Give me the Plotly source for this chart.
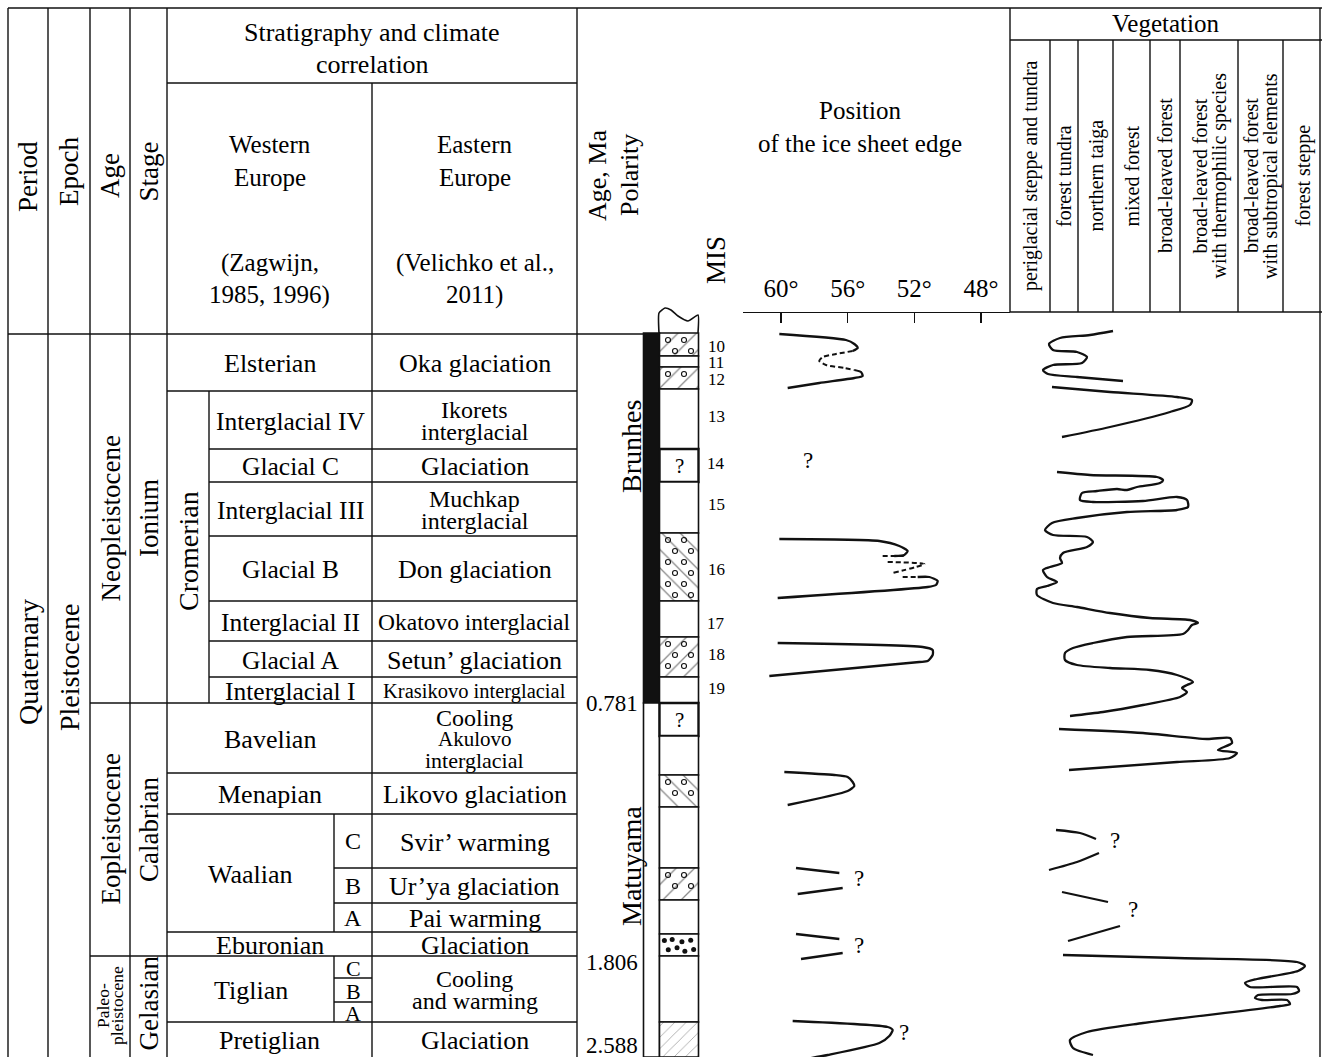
import plotly.graph_objects as go

W, H = 1322, 1057
FONT = "Liberation Serif, Times New Roman, serif"
INK = "#111111"

# ======================= DATA =======================
header_cols = ["Period", "Epoch", "Age", "Stage"]
strat_title = ["Stratigraphy and climate", "correlation"]
west_head = ["Western", "Europe", "(Zagwijn,", "1985, 1996)"]
east_head = ["Eastern", "Europe", "(Velichko et al.,", "2011)"]

period_label = "Quaternary"
epoch_label = "Pleistocene"
age_labels = [["Neopleistocene"], ["Eopleistocene"], ["Paleo-", "pleistocene"]]
stage_labels = ["Ionium", "Calabrian", "Gelasian"]
cromerian_label = "Cromerian"

# table row boundaries (chart depth units, top -> bottom)
row_edges = [334, 391, 449, 482, 536, 601, 641, 677, 703, 773, 814, 868, 903, 932, 956, 1022, 1057]
age_edges = [334, 703, 956, 1057]

east_labels = [["Oka glaciation"], ["Ikorets", "interglacial"], ["Glaciation"], ["Muchkap", "interglacial"],
               ["Don glaciation"], ["Okatovo interglacial"], ["Setun’ glaciation"], ["Krasikovo interglacial"],
               ["Cooling", "Akulovo", "interglacial"], ["Likovo glaciation"], ["Svir’ warming"],
               ["Ur’ya glaciation"], ["Pai warming"], ["Glaciation"], ["Cooling", "and warming"], ["Glaciation"]]

west_labels = ["Elsterian", "Interglacial IV", "Glacial C", "Interglacial III", "Glacial B",
               "Interglacial II", "Glacial A", "Interglacial I", "Bavelian", "Menapian",
               "Waalian", "Eburonian", "Tiglian", "Pretiglian"]
west_rows = [(0, 1), (1, 2), (2, 3), (3, 4), (4, 5), (5, 6), (6, 7), (7, 8), (8, 9), (9, 10),
             (10, 13), (13, 14), (14, 15), (15, 16)]
west_kind = ["full", "crom", "crom", "crom", "crom", "crom", "crom", "crom", "full", "full",
             "split", "full", "split", "full"]
waalian_sub = ["C", "B", "A"]
tiglian_sub = ["C", "B", "A"]
tiglian_edges = [956, 978, 1002, 1022]

ma_labels = ["0.781", "1.806", "2.588"]
ma_depth = [703, 962, 1045]

mis_labels = ["10", "11", "12", "13", "14", "15", "16", "17", "18", "19"]
mis_depth = [346, 362, 379, 416, 463, 504, 569, 623, 654, 688]

chrons = ["Brunhes", "Matuyama"]
chron_edges = [333, 703, 1057]
chron_fill = ["#111111", "white"]

litho_edges = [333, 356, 367, 389, 449, 482, 533, 601, 637, 677, 703, 736, 775, 807, 868, 900, 934, 956, 1022, 1057]
litho_kind = ["/", "", "/", "", "?", "", "\\", "", "/", "", "?", "", "\\", "", "/", "", ".", "", "f"]

# ice-sheet edge latitude (degrees N) vs depth
lat_ticks = [60, 56, 52, 48]
ice_solid = [
    ([60.1, 56.1, 55.6, 55.4, 55.7], [334, 340, 344, 348, 351]),
    ([55.6, 55.2, 55.1, 55.6, 57.7, 59.6], [370, 372, 376, 378, 383, 388]),
    ([60.1, 54.1, 52.9, 52.4, 52.6, 53.2], [539, 541, 546, 551, 555, 556]),
    ([51.8, 51.1, 50.6, 50.7, 51.2, 60.2], [577, 577, 581, 585, 587, 598]),
    ([60.2, 51.5, 50.9, 50.9, 51.2, 51.7, 60.7], [643, 647, 650, 655, 661, 662, 676]),
    ([59.8, 56.8, 56.0, 55.7, 55.6, 56.0, 59.6], [772, 775, 777, 782, 786, 791, 805]),
    ([59.1, 56.5], [868, 873]),
    ([59.0, 56.3], [894, 888]),
    ([59.1, 56.5], [934, 939]),
    ([58.8, 56.3], [959, 953]),
    ([59.3, 53.6, 53.3, 53.5, 54.1, 57.2, 59.5], [1021, 1027, 1030, 1036, 1043, 1055, 1062]),
]
ice_dashed = [
    ([55.7, 56.7, 57.5, 57.7, 57.3, 56.2, 55.6], [351, 354, 357, 361, 365, 368, 370]),
    ([53.9, 52.6], [556, 556]),
    ([53.6, 51.4, 53.3], [562, 564, 573]),
    ([52.7, 51.8], [577, 577]),
]
ice_query = ([58.4, 55.3, 55.3, 52.6], [460, 878, 945, 1032])

# vegetation curve (position across the vegetation scale) vs depth
veg_labels = [["periglacial steppe and tundra"], ["forest tundra"], ["northern taiga"], ["mixed forest"],
              ["broad-leaved forest"], ["broad-leaved forest", "with thermophilic species"],
              ["broad-leaved forest", "with subtropical elements"], ["forest steppe"]]
veg_segments = [
    ([1113, 1090, 1060, 1049, 1053, 1077, 1087, 1082, 1053, 1043, 1048, 1077, 1123],
     [331, 335, 338, 344, 350, 352, 357, 363, 365, 370, 374, 377, 381]),
    ([1052, 1110, 1177, 1192, 1190, 1170, 1110, 1062],
     [387, 392, 397, 400, 405, 412, 427, 437]),
    ([1057, 1090, 1157, 1163, 1160, 1137, 1127, 1117, 1097, 1082, 1080, 1093, 1143, 1177, 1187, 1188, 1177,
      1127, 1077, 1052, 1045, 1053, 1087, 1093, 1087, 1063, 1060, 1062, 1050, 1043, 1047, 1057, 1047, 1037,
      1037, 1053, 1077, 1110, 1150, 1190, 1198, 1192, 1188, 1183, 1127, 1093, 1073, 1065, 1065, 1077, 1110,
      1150, 1177, 1193, 1187, 1182, 1187, 1180, 1143, 1103, 1070],
     [472, 475, 477, 480, 483, 487, 490, 489, 491, 493, 500, 502, 501, 497, 500, 507, 510,
      512, 518, 523, 530, 535, 537, 542, 547, 553, 558, 563, 567, 570, 577, 582, 586, 589,
      595, 603, 607, 613, 618, 620, 623, 625, 630, 634, 637, 643, 648, 653, 660, 665, 668,
      670, 675, 682, 685, 688, 692, 697, 705, 712, 716]),
    ([1059, 1143, 1207, 1230, 1232, 1218, 1237, 1230, 1177, 1069],
     [729, 733, 739, 738, 743, 750, 753, 758, 762, 770]),
    ([1056, 1080, 1096], [830, 833, 839]),
    ([1099, 1077, 1049], [853, 862, 870]),
    ([1062, 1108], [892, 902]),
    ([1120, 1068], [926, 941]),
    ([1063, 1177, 1297, 1305, 1298, 1257, 1245, 1250, 1297, 1299, 1292, 1258, 1255, 1262, 1287, 1290, 1280,
      1143, 1087, 1070, 1073, 1093],
     [955, 958, 962, 966, 971, 979, 983, 987, 987, 991, 994, 995, 998, 1000, 1000, 1004, 1006,
      1023, 1032, 1040, 1048, 1055]),
]
veg_query = ([1115, 1133], [840, 909])

# ======================= LAYOUT GEOMETRY =======================
COLS = [8, 48, 90, 130, 167, 372, 577]
CROM_X = 209
SPLIT_X = 334
TOP, SUB, HB, BOT = 8, 83, 334, 1057
POL_X, POL_W = 651.5, 16
LIT_X, LIT_W = 679, 39
VEG_COLS = [1010, 1050, 1078, 1113, 1150, 1180, 1238, 1283, 1322]
ICE_X0, ICE_X1, AXIS_Y = 743, 1010, 312
PX_PER_DEG = 16.667
LAT_AT_X0 = 60 + (781 - ICE_X0) / PX_PER_DEG
LAT_AT_X1 = 60 - (ICE_X1 - 781) / PX_PER_DEG

shapes = []
ann = []


def hline(y, x0, x1, w=1.4):
    shapes.append(dict(type="line", xref="x", yref="y", x0=x0, x1=x1, y0=y, y1=y,
                       line=dict(color=INK, width=w)))


def vline(x, y0, y1, w=1.4):
    shapes.append(dict(type="line", xref="x", yref="y", x0=x, x1=x, y0=y0, y1=y1,
                       line=dict(color=INK, width=w)))


def txt(x, y, s, size=25, angle=0, xref="x"):
    ann.append(dict(x=x, y=y, xref=xref, yref="y", text=s, showarrow=False, textangle=angle,
                    xanchor="center", yanchor="middle", font=dict(family=FONT, size=size, color="#000")))


def lines_block(xc, yc, lines, size, gap, angle=0, sizes=None):
    n = len(lines)
    for i, s in enumerate(lines):
        off = (i - (n - 1) / 2) * gap
        sz = sizes[i] if sizes else size
        if angle == 0:
            txt(xc, yc + off, s, sz)
        else:
            txt(xc + off, yc, s, sz, angle)


# ---- frame ----
hline(TOP, COLS[0], W)
for x in COLS[:5] + [COLS[6]]:
    vline(x, TOP, BOT)
vline(COLS[5], SUB, BOT)
hline(SUB, COLS[4], COLS[6])
hline(HB, COLS[0], 643)
vline(ICE_X1, TOP, AXIS_Y)
hline(40, ICE_X1, W)
for x in VEG_COLS[1:-1]:
    vline(x, 40, AXIS_Y)
hline(AXIS_Y, ICE_X1, W)
vline(1320, TOP, BOT)

# ---- header text ----
for i, lab in enumerate(header_cols):
    txt((COLS[i] + COLS[i + 1]) / 2, [177, 172, 176, 172][i], lab, 27, -90)
lines_block((COLS[4] + COLS[6]) / 2, 48, strat_title, 26, 32)
wx = (COLS[4] + COLS[5]) / 2
ex = (COLS[5] + COLS[6]) / 2
lines_block(wx, 161, west_head[:2], 25, 33)
lines_block(wx, 279, west_head[2:], 25, 32)
lines_block(ex, 161, east_head[:2], 25, 33)
lines_block(ex, 279, east_head[2:], 25, 32)
txt(597, 176, "Age, Ma", 26, -90)
txt(629, 175, "Polarity", 26, -90)
txt(716, 260, "MIS", 27, -90)
lines_block(860, 127, ["Position", "of the ice sheet edge"], 25, 33)
txt(1165, 23, "Vegetation", 25)
for i, lab in enumerate(veg_labels):
    xc = (VEG_COLS[i] + VEG_COLS[i + 1]) / 2
    lines_block(xc, 176, lab, 20, 19, -90)

# ---- left columns body ----
txt((COLS[0] + COLS[1]) / 2, 662, period_label, 28, -90)
txt((COLS[1] + COLS[2]) / 2, 667, epoch_label, 28, -90)
for i in range(3):
    y0, y1 = age_edges[i], age_edges[i + 1]
    if i > 0:
        hline(y0, COLS[2], COLS[4])
    yc = (y0 + y1) / 2 if i < 2 else 1006
    if i < 2:
        txt((COLS[2] + COLS[3]) / 2, yc, age_labels[i][0], 27, -90)
    else:
        lines_block((COLS[2] + COLS[3]) / 2, yc, age_labels[i], 17.5, 14, -90)
    txt((COLS[3] + COLS[4]) / 2, yc if i < 2 else 1003, stage_labels[i], 27, -90)
vline(CROM_X, row_edges[1], row_edges[8])
txt((COLS[4] + CROM_X) / 2, 551, cromerian_label, 28, -90)

# ---- correlation table rows ----
for k in range(1, len(row_edges) - 1):
    y = row_edges[k]
    if k in (11, 12):
        x0 = SPLIT_X
    elif 2 <= k <= 7:
        x0 = CROM_X
    else:
        x0 = COLS[4]
    hline(y, x0, COLS[6])
vline(SPLIT_X, row_edges[10], row_edges[13])
vline(SPLIT_X, tiglian_edges[0], tiglian_edges[-1])
for y in tiglian_edges[1:-1]:
    hline(y, SPLIT_X, COLS[5])

for lab, (a, b), kind in zip(west_labels, west_rows, west_kind):
    y0, y1 = row_edges[a], row_edges[b]
    if kind == "full":
        x0, x1 = COLS[4], COLS[5]
    elif kind == "crom":
        x0, x1 = CROM_X, COLS[5]
    else:
        x0, x1 = COLS[4], SPLIT_X
    size = 25.5 if kind == "crom" else 26
    txt((x0 + x1) / 2, (y0 + y1) / 2 + 1, lab, size)

for i, lab in enumerate(east_labels):
    y0, y1 = row_edges[i], row_edges[i + 1]
    size = 26
    sizes = None
    if lab[0].startswith("Krasikovo"):
        size = 20.5
    elif lab[0].startswith("Okatovo"):
        size = 23.5
    elif len(lab) == 3:
        size = 22
        sizes = [24, 21, 22]
    elif len(lab) > 1:
        size = 24
    gap = 22 if len(lab) == 2 else 21
    lines_block(ex, (y0 + y1) / 2 + 1, lab, size, gap, sizes=sizes)

for i, lab in enumerate(waalian_sub):
    txt((SPLIT_X + COLS[5]) / 2, (row_edges[10 + i] + row_edges[11 + i]) / 2, lab, 24)
for i, lab in enumerate(tiglian_sub):
    txt((SPLIT_X + COLS[5]) / 2, (tiglian_edges[i] + tiglian_edges[i + 1]) / 2 + 1, lab, 22)

# ---- ages, MIS, chron labels ----
for lab, d in zip(ma_labels, ma_depth):
    txt(612, d, lab, 23)
for lab, d in zip(mis_labels, mis_depth):
    txt(716, d, lab, 17)
txt(631, 447, chrons[0], 28, -90)
txt(631, 866, chrons[1], 28, -90)

traces = []
# polarity column
traces.append(go.Bar(x=[POL_X] * 2, width=[POL_W] * 2, base=chron_edges[:-1],
                     y=[chron_edges[i + 1] - chron_edges[i] for i in range(2)],
                     marker=dict(color=chron_fill, line=dict(color=INK, width=1.6)),
                     hoverinfo="skip", showlegend=False))

# lithology column
pat_shape, pat_size, pat_sol, lw = [], [], [], []
for k in litho_kind:
    if k in ("/", "\\"):
        pat_shape.append(k); pat_size.append(13); pat_sol.append(0.1)
    elif k == "f":
        pat_shape.append("/"); pat_size.append(8); pat_sol.append(0.08)
    else:
        pat_shape.append(""); pat_size.append(8); pat_sol.append(0.2)
    lw.append(2.4 if k == "?" else 1.6)
nl = len(litho_kind)
traces.append(go.Bar(x=[LIT_X] * nl, width=[LIT_W] * nl, base=litho_edges[:-1],
                     y=[litho_edges[i + 1] - litho_edges[i] for i in range(nl)],
                     marker=dict(color="white", line=dict(color=INK, width=lw),
                                 pattern=dict(shape=pat_shape, size=pat_size, solidity=pat_sol,
                                              fgcolor=INK, bgcolor="white", fillmode="overlay")),
                     hoverinfo="skip", showlegend=False))
# pebble symbols inside the moraine layers, gravel dots in the sand layer
ox, oy, dx, dy = [], [], [], []
for i, k in enumerate(litho_kind):
    t, b = litho_edges[i], litho_edges[i + 1]
    if k in ("/", "\\"):
        r = 0
        y = t + 7
        while y < b - 4:
            shift = (r % 2) * 7
            for xx in (LIT_X - 11 + shift, LIT_X + 5 + shift):
                if xx < LIT_X + LIT_W / 2 - 3:
                    ox.append(xx); oy.append(y)
            y += 11
            r += 1
    elif k == ".":
        h = b - t
        for fx, fy in ((-0.75, 0.3), (-0.35, 0.25), (0.15, 0.35), (0.6, 0.28),
                       (-0.55, 0.72), (-0.1, 0.62), (0.3, 0.78), (0.75, 0.7)):
            dx.append(LIT_X + fx * LIT_W / 2); dy.append(t + fy * h)
traces.append(go.Scatter(x=ox, y=oy, mode="markers",
                         marker=dict(symbol="circle-open", size=5, color=INK, line=dict(width=1.1)),
                         hoverinfo="skip", showlegend=False))
traces.append(go.Scatter(x=dx, y=dy, mode="markers",
                         marker=dict(symbol="circle", size=5, color=INK),
                         hoverinfo="skip", showlegend=False))
for i, k in enumerate(litho_kind):
    if k == "?":
        txt(LIT_X, (litho_edges[i] + litho_edges[i + 1]) / 2, "?", 21)
# wavy top of the section
cap_x = [LIT_X - 20, LIT_X - 20, LIT_X - 14, LIT_X - 8, LIT_X - 1, LIT_X + 9, LIT_X + 19, LIT_X + 19]
cap_y = [333, 313, 308, 310, 316, 321, 315, 333]
traces.append(go.Scatter(x=cap_x, y=cap_y, mode="lines", line=dict(color=INK, width=1.6, shape="spline",
                         smoothing=0.5), hoverinfo="skip", showlegend=False))

# ice sheet edge curves
for lat, d in ice_solid:
    traces.append(go.Scatter(x=lat, y=d, xaxis="x2", yaxis="y", mode="lines",
                             line=dict(color=INK, width=2.3, shape="spline", smoothing=0.6),
                             hoverinfo="skip", showlegend=False))
for lat, d in ice_dashed:
    traces.append(go.Scatter(x=lat, y=d, xaxis="x2", yaxis="y", mode="lines",
                             line=dict(color=INK, width=2.0, dash="5px,3px", shape="spline", smoothing=0.6),
                             hoverinfo="skip", showlegend=False))
for la, d in zip(*ice_query):
    txt(la, d, "?", 23, 0, xref="x2")

# vegetation curves
for vx, d in veg_segments:
    traces.append(go.Scatter(x=vx, y=d, mode="lines",
                             line=dict(color=INK, width=2.3, shape="spline", smoothing=0.7),
                             hoverinfo="skip", showlegend=False))
for vx, d in zip(*veg_query):
    txt(vx, d, "?", 23)

fig = go.Figure(traces)
fig.update_layout(
    width=W, height=H, margin=dict(l=0, r=0, t=0, b=0),
    paper_bgcolor="white", plot_bgcolor="rgba(0,0,0,0)",
    barmode="overlay", bargap=0, showlegend=False,
    xaxis=dict(range=[0, W], domain=[0, 1], visible=False, fixedrange=True),
    yaxis=dict(range=[H, 0], domain=[0, 1], visible=False, fixedrange=True),
    xaxis2=dict(domain=[ICE_X0 / W, ICE_X1 / W], range=[LAT_AT_X0, LAT_AT_X1], anchor="free",
                position=1 - AXIS_Y / H, side="top", showline=True, linecolor=INK, linewidth=1.4,
                ticks="inside", ticklen=10, tickwidth=1.4, tickcolor=INK,
                tickvals=lat_ticks, ticktext=[f"{v}°" for v in lat_ticks], ticklabelstandoff=5,
                tickfont=dict(family=FONT, size=25, color="#000"), showgrid=False, zeroline=False,
                fixedrange=True),
    shapes=shapes, annotations=ann,
)
fig.write_html("out.html", config={"displayModeBar": False, "staticPlot": True},
               post_script="document.body.style.margin='0';")
